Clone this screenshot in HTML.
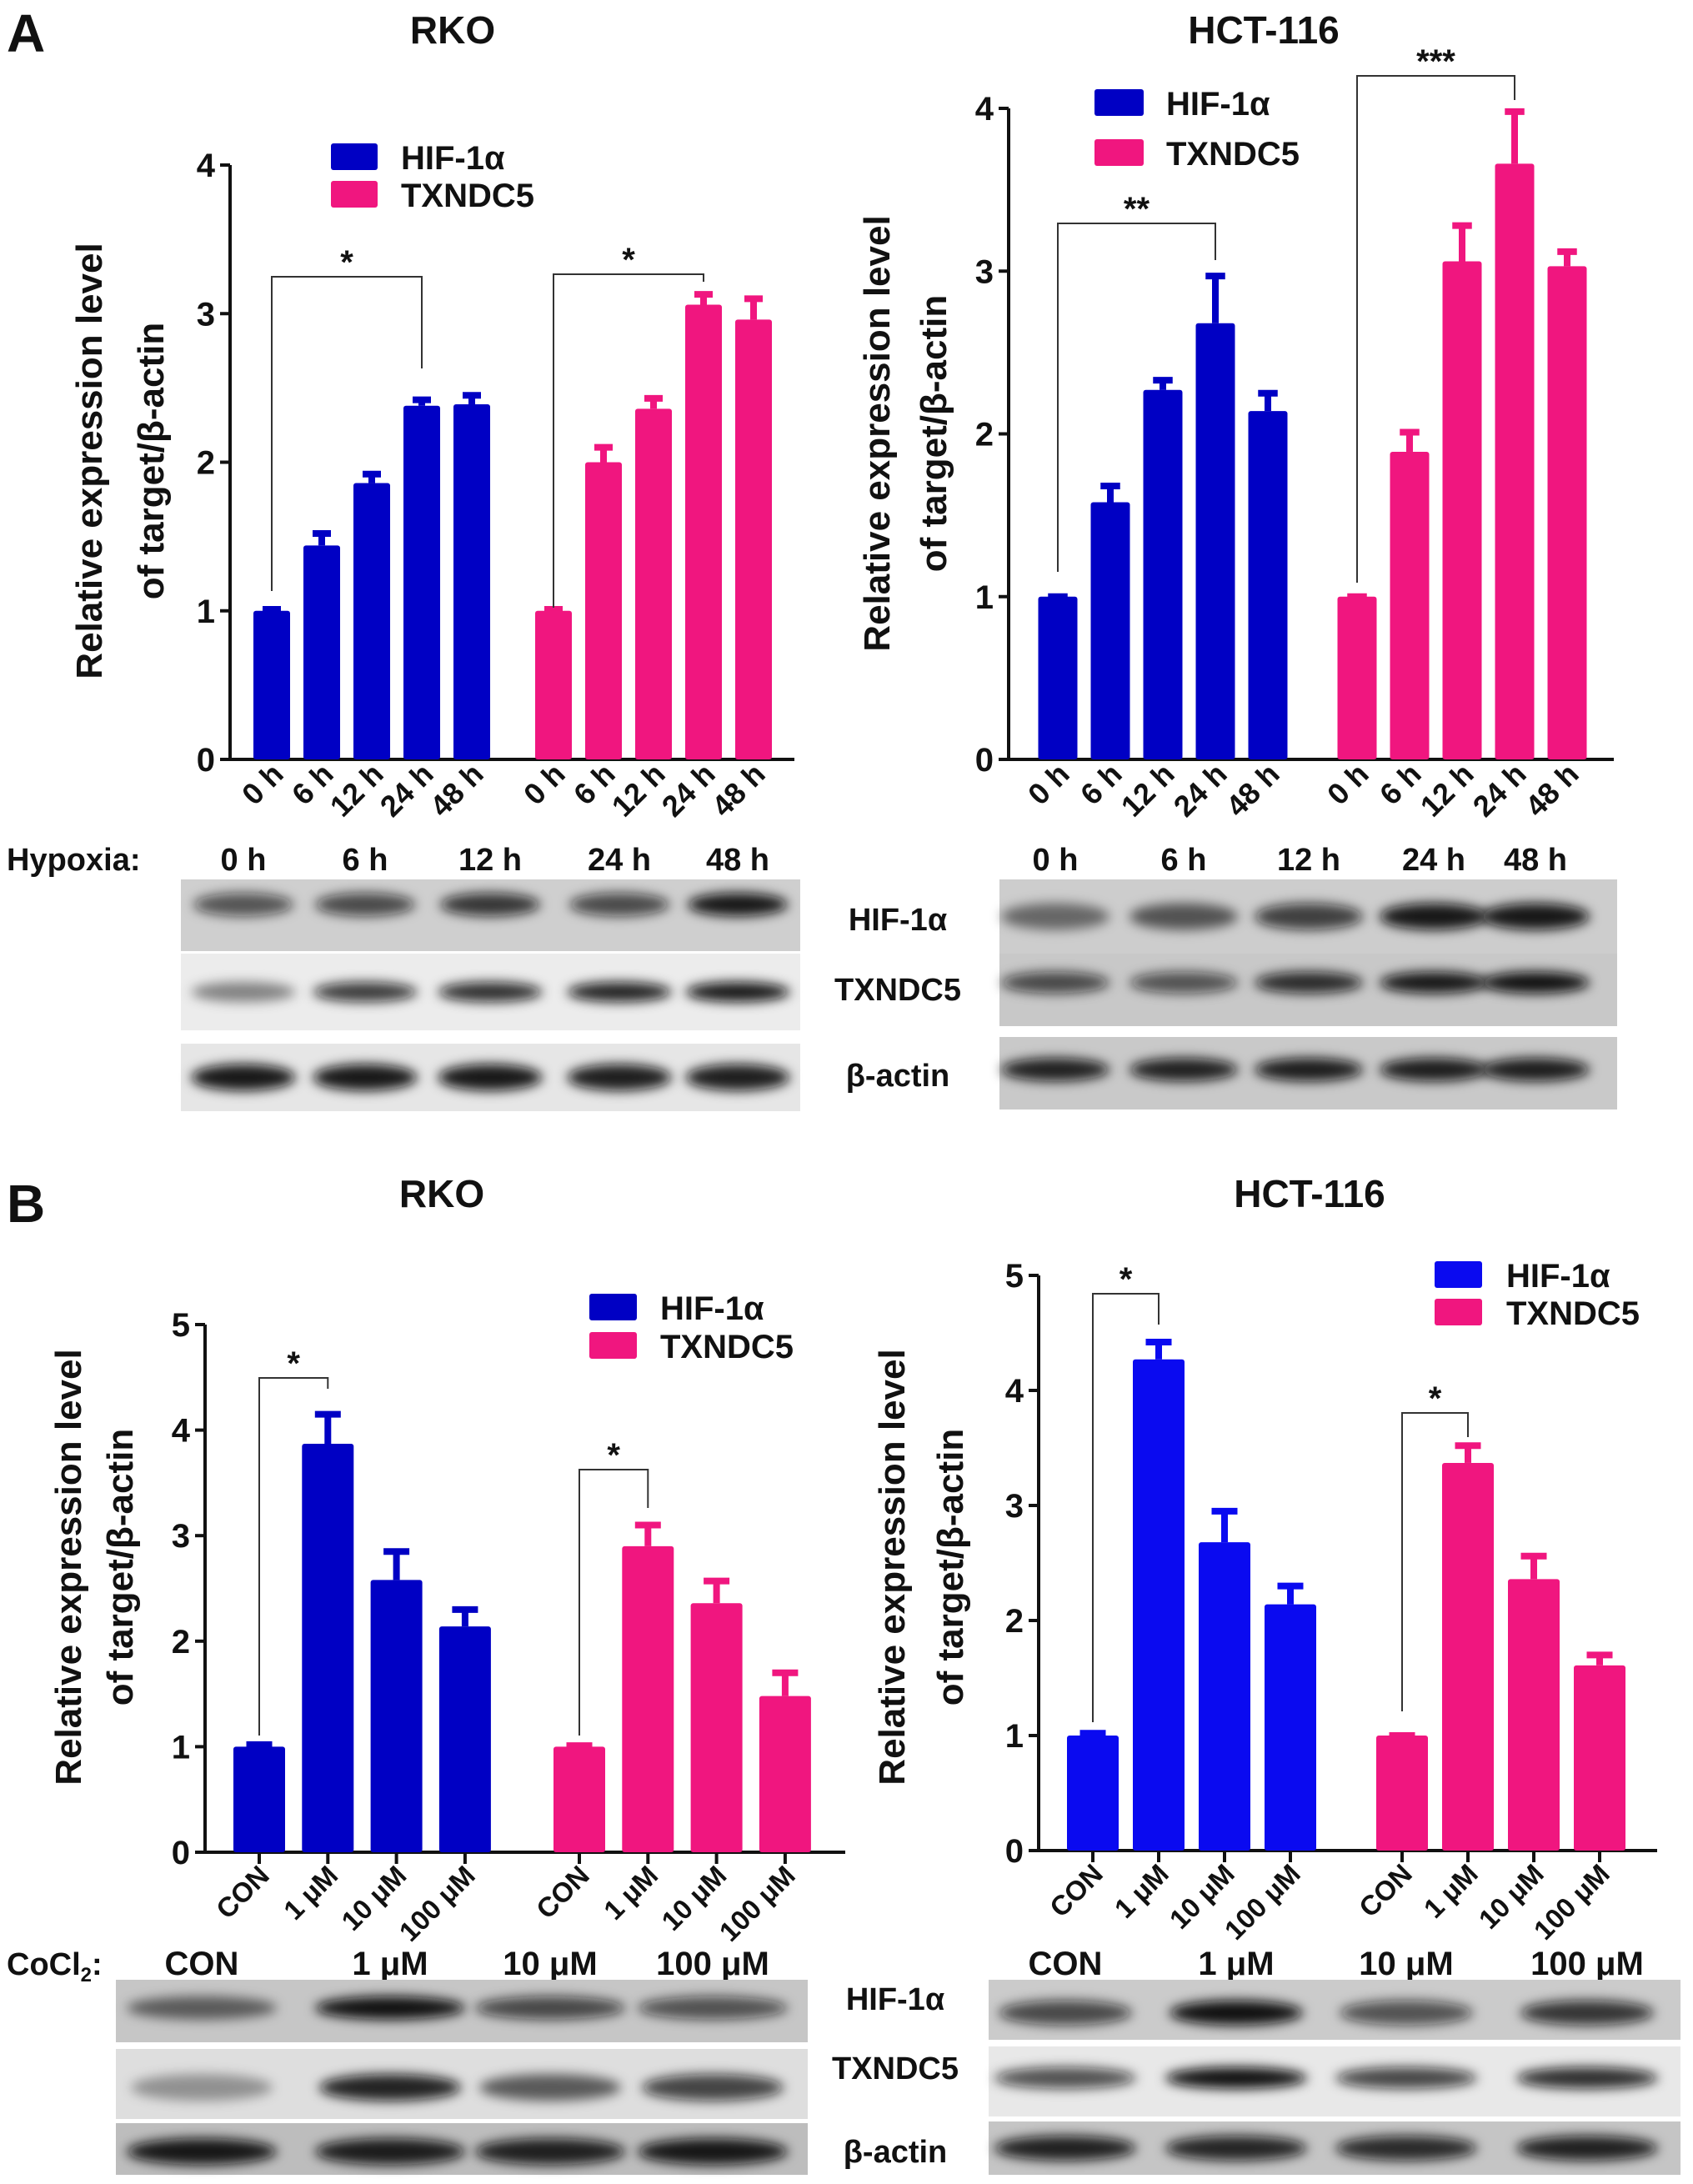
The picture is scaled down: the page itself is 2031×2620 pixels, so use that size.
<!DOCTYPE html>
<html><head><meta charset="utf-8"><style>
html,body{margin:0;padding:0;background:#fff}
svg text{font-family:"Liberation Sans",Arial,sans-serif;font-weight:bold;fill:#111}
</style></head><body>
<svg id="fig" width="2031" height="2615" viewBox="0 0 2031 2615" xmlns="http://www.w3.org/2000/svg">
<defs>
<filter id="blur" x="-30%" y="-100%" width="160%" height="300%"><feGaussianBlur stdDeviation="7"/></filter>
</defs>
<g id="root"></g>
</svg>
<script>
// ---- data ----
const timeCats = ["0 h","6 h","12 h","24 h","48 h"];
const doseCats = ["CON","1 μM","10 μM","100 μM"];
const aRkoHif = [1.0,1.44,1.86,2.38,2.39];
const aRkoHifErr = [0.01,0.08,0.06,0.04,0.06];
const aRkoTx = [1.0,2.0,2.36,3.06,2.96];
const aRkoTxErr = [0.01,0.1,0.07,0.07,0.14];
const aHctHif = [1.0,1.58,2.27,2.68,2.14];
const aHctHifErr = [0.0,0.1,0.06,0.29,0.11];
const aHctTx = [1.0,1.89,3.06,3.66,3.03];
const aHctTxErr = [0.0,0.12,0.22,0.32,0.09];
const bRkoHif = [1.0,3.87,2.58,2.14];
const bRkoHifErr = [0.02,0.28,0.27,0.16];
const bRkoTx = [1.0,2.9,2.36,1.48];
const bRkoTxErr = [0.01,0.2,0.21,0.22];
const bHctHif = [1.0,4.27,2.68,2.14];
const bHctHifErr = [0.02,0.15,0.27,0.16];
const bHctTx = [1.0,3.37,2.36,1.61];
const bHctTxErr = [0.0,0.15,0.2,0.09];
const ticksA = [0,1,2,3,4];
const ticksB = [0,1,2,3,4,5];

const NS="http://www.w3.org/2000/svg";
const root=document.getElementById('root');
function mk(tag,attrs,parent,txt){const e=document.createElementNS(NS,tag);for(const k in attrs)e.setAttribute(k,attrs[k]);if(txt!==undefined)e.textContent=txt;(parent||root).appendChild(e);return e;}

function chart(c){
  const g=mk('g',{});
  
  
  const y=v=>c.y0-(v/c.max)*(c.y0-c.yTop);
  const t=mk('text',{x:c.titleX,y:c.titleY,'font-size':46,'text-anchor':'middle'},g,c.title);
  
  
  const yl=mk('text',{transform:`translate(${c.ylX1},${c.ylY}) rotate(-90)`,'font-size':44,'text-anchor':'middle'},g,'Relative expression level');
  
  
  const yl2=mk('text',{transform:`translate(${c.ylX2},${c.ylY}) rotate(-90)`,'font-size':44,'text-anchor':'middle'},g,'of target/β-actin');
  
  
  const ya=mk('line',{x1:c.ax,y1:c.yTop,x2:c.ax,y2:c.y0,stroke:'#111','stroke-width':4},g);
  
  
  const xa=mk('line',{x1:c.ax-2,y1:c.y0,x2:c.axEnd,y2:c.y0,stroke:'#111','stroke-width':4},g);
  
  
  c.ticks.forEach(tv=>{
    mk('line',{x1:c.ax-12,y1:y(tv),x2:c.ax,y2:y(tv),stroke:'#111','stroke-width':4},g);
    const tl=mk('text',{x:c.ax-18,y:y(tv)+14,'font-size':40,'text-anchor':'end'},g,String(tv));
    
    
  });
  const groups=[[c.hif,c.hifErr,c.blue,c.x1],[c.tx,c.txErr,'#f0167f',c.x2]];
  groups.forEach(([vals,errs,col,xs],gi)=>{
    vals.forEach((v,i)=>{
      const cx=xs+i*c.step;
      const er=mk('g',{},g);
      
      
      mk('line',{x1:cx,y1:y(v),x2:cx,y2:y(v+errs[i]),stroke:col,'stroke-width':8},er);
      mk('line',{x1:cx-c.bw*0.25,y1:y(v+errs[i]),x2:cx+c.bw*0.25,y2:y(v+errs[i]),stroke:col,'stroke-width':8},er);
      const b=mk('rect',{x:cx-c.bw/2,y:y(v),width:c.bw,height:c.y0-y(v),fill:col,rx:3},g);
      
      
      if(c.xTicks) mk('line',{x1:cx,y1:c.y0,x2:cx,y2:c.y0+14,stroke:'#111','stroke-width':4},g);
      const lx=cx+c.lblDx, ly=c.y0+c.lblDy;
      const xl=mk('text',{transform:`translate(${lx},${ly}) rotate(-45)`,'font-size':c.lblFs,'text-anchor':'end'},g,c.cats[i]);
      
      
    });
  });
  c.sig.forEach(s=>{
    const xa_=s.g===0?c.x1:c.x2;
    const xA=xa_+s.i*c.step, xB=xa_+s.j*c.step;
    const br=mk('path',{d:`M${xA},${s.yA} V${s.top} H${xB} V${s.yB}`,fill:'none',stroke:'#333','stroke-width':2},g);
    
    
    const st=mk('text',{x:(xA+xB)/2,y:s.top-4,'font-size':40,'text-anchor':'middle'},g,s.label);
    
    
  });
  const lg=mk('g',{},g);
  
  
  [[c.blue,'HIF-1α',c.lgY1],['#f0167f','TXNDC5',c.lgY2]].forEach(([col,lab,ly])=>{
    const e=mk('g',{},lg);
    
    
    mk('rect',{x:c.lgX,y:ly,width:c.lgW,height:32,fill:col,rx:3},e);
    mk('text',{x:c.lgTX,y:ly+31,'font-size':40},e,lab);
  });
}

chart({name:'chart-a-rko',title:'RKO',titleX:543,titleY:52,ylX1:122,ylX2:196,ylY:553,
  ax:276,axEnd:953,y0:911,yTop:198,max:4,ticks:ticksA,x1:326,x2:664,step:60,bw:44,blue:'#0000c4',
  hif:aRkoHif,hifErr:aRkoHifErr,tx:aRkoTx,txErr:aRkoTxErr,cats:timeCats,lblDx:16,lblDy:20,lblFs:36,xTicks:false,
  sig:[{g:0,i:0,j:3,yA:709,top:332,yB:442,label:'*'},{g:1,i:0,j:3,yA:729,top:329,yB:338,label:'*'}],
  lgX:397,lgW:56,lgY1:172,lgY2:217,lgTX:481});
chart({name:'chart-a-hct116',title:'HCT-116',titleX:1516,titleY:52,ylX1:1067,ylX2:1135,ylY:520,
  ax:1210,axEnd:1936,y0:911,yTop:130,max:4,ticks:ticksA,x1:1269,x2:1628,step:63,bw:47,blue:'#0000c4',
  hif:aHctHif,hifErr:aHctHifErr,tx:aHctTx,txErr:aHctTxErr,cats:timeCats,lblDx:16,lblDy:20,lblFs:36,xTicks:false,
  sig:[{g:0,i:0,j:3,yA:686,top:268,yB:312,label:'**'},{g:1,i:0,j:3,yA:699,top:91,yB:120,label:'***'}],
  lgX:1313,lgW:59,lgY1:107,lgY2:167,lgTX:1399});
chart({name:'chart-b-rko',title:'RKO',titleX:530,titleY:1448,ylX1:97,ylX2:159,ylY:1880,
  ax:246,axEnd:1014,y0:2222,yTop:1589,max:5,ticks:ticksB,x1:311,x2:695,step:82.3,bw:62,blue:'#0000c4',
  hif:bRkoHif,hifErr:bRkoHifErr,tx:bRkoTx,txErr:bRkoTxErr,cats:doseCats,lblDx:14,lblDy:30,lblFs:33,xTicks:true,
  sig:[{g:0,i:0,j:1,yA:2082,top:1653,yB:1666,label:'*'},{g:1,i:0,j:1,yA:2082,top:1763,yB:1809,label:'*'}],
  lgX:707,lgW:57,lgY1:1552,lgY2:1598,lgTX:792});
chart({name:'chart-b-hct116',title:'HCT-116',titleX:1571,titleY:1448,ylX1:1085,ylX2:1155,ylY:1880,
  ax:1246,axEnd:1988,y0:2220,yTop:1530,max:5,ticks:ticksB,x1:1311,x2:1682,step:79,bw:62,blue:'#0a0af0',
  hif:bHctHif,hifErr:bHctHifErr,tx:bHctTx,txErr:bHctTxErr,cats:doseCats,lblDx:14,lblDy:30,lblFs:33,xTicks:true,
  sig:[{g:0,i:0,j:1,yA:2066,top:1552,yB:1589,label:'*'},{g:1,i:0,j:1,yA:2053,top:1695,yB:1724,label:'*'}],
  lgX:1721,lgW:57,lgY1:1513,lgY2:1558,lgTX:1807});

[['A',8,62],['B',8,1466]].forEach(([l,x,y])=>{
  const t=mk('text',{x:x,y:y,'font-size':64},root,l);
  
  
});

// ---- western blots ----
const hypLeftX=[292,438,588,743,885];
const hypRightX=[1266,1420,1570,1720,1842];
const cocLeftX=[242,468,660,855];
const cocRightX=[1278,1483,1687,1904];
const hypRkoHif=[0.65,0.7,0.8,0.7,0.95];
const hypRkoTx=[0.45,0.8,0.85,0.9,0.95];
const hypRkoAct=[0.95,0.95,0.95,0.92,0.92];
const hypHctHif=[0.5,0.6,0.75,0.95,0.95];
const hypHctTx=[0.7,0.65,0.85,0.95,0.98];
const hypHctAct=[0.9,0.9,0.92,0.92,0.92];
const cocRkoHif=[0.55,0.98,0.7,0.65];
const cocRkoTx=[0.35,0.9,0.6,0.75];
const cocRkoAct=[0.95,0.92,0.9,0.95];
const cocHctHif=[0.7,0.98,0.65,0.8];
const cocHctTx=[0.7,0.98,0.75,0.85];
const cocHctAct=[0.9,0.88,0.85,0.9];

function blot(name,x,y,w,h,bg,lanes,vals,bandW,bandY,bandH){
  const g=mk('g',{});
  
  
  mk('rect',{x:x,y:y,width:w,height:h,fill:bg},g);
  lanes.forEach((cx,i)=>{
    const e=mk('ellipse',{cx:cx,cy:y+h*bandY,rx:bandW/2,ry:bandH,fill:'#0a0a0a','fill-opacity':vals[i],filter:'url(#blur)'},g);
    
    
  });
}
function label(txt,x,y,fs,anchor,name){
  const t=mk('text',{x:x,y:y,'font-size':fs,'text-anchor':anchor||'middle'},root,txt);
  
  
  return t;
}
label('Hypoxia:',8,1044,38,'start','hypoxia-label');
timeCats.forEach((c,i)=>{label(c,hypLeftX[i],1044,38,'middle','lane-label');label(c,hypRightX[i],1044,38,'middle','lane-label');});
blot('blot-rko-hif1a',217,1055,743,86,'#cfcfcf',hypLeftX,hypRkoHif,120,0.35,14);
blot('blot-rko-txndc5',217,1144,743,92,'#ececec',hypLeftX,hypRkoTx,125,0.5,12);
blot('blot-rko-actin',217,1252,743,81,'#e6e6e6',hypLeftX,hypRkoAct,125,0.5,16);
blot('blot-hct-hif1a',1199,1055,741,89,'#cdcdcd',hypRightX,hypHctHif,130,0.5,16);
blot('blot-hct-txndc5',1199,1144,741,87,'#c8c8c8',hypRightX,hypHctTx,130,0.4,13);
blot('blot-hct-actin',1199,1244,741,87,'#c9c9c9',hypRightX,hypHctAct,130,0.45,14);
label('HIF-1α',1077,1116,38,'middle','row-label-hif1a');
label('TXNDC5',1077,1200,38,'middle','row-label-txndc5');
label('β-actin',1077,1303,38,'middle','row-label-actin');
const cl=label('CoCl',8,2369,38,'start','cocl2-label');
mk('tspan',{'font-size':24,dy:8},cl,'2');
mk('tspan',{dy:-8},cl,':');
doseCats.forEach((c,i)=>{label(c,cocLeftX[i],2369,40,'middle','lane-label');label(c,cocRightX[i],2369,40,'middle','lane-label');});
blot('blot-b-rko-hif1a',139,2375,830,75,'#c6c6c6',cocLeftX,cocRkoHif,180,0.45,14);
blot('blot-b-rko-txndc5',139,2458,830,84,'#dedede',cocLeftX,cocRkoTx,170,0.55,16);
blot('blot-b-rko-actin',139,2547,830,62,'#bdbdbd',cocLeftX,cocRkoAct,180,0.55,16);
blot('blot-b-hct-hif1a',1186,2375,830,72,'#cbcbcb',cocRightX,cocHctHif,160,0.55,15);
blot('blot-b-hct-txndc5',1186,2455,830,84,'#e8e8e8',cocRightX,cocHctTx,170,0.45,13);
blot('blot-b-hct-actin',1186,2545,830,64,'#c5c5c5',cocRightX,cocHctAct,170,0.5,15);
label('HIF-1α',1074,2411,38,'middle','row-label-hif1a');
label('TXNDC5',1074,2494,38,'middle','row-label-txndc5');
label('β-actin',1074,2594,38,'middle','row-label-actin');
</script>
</body></html>
